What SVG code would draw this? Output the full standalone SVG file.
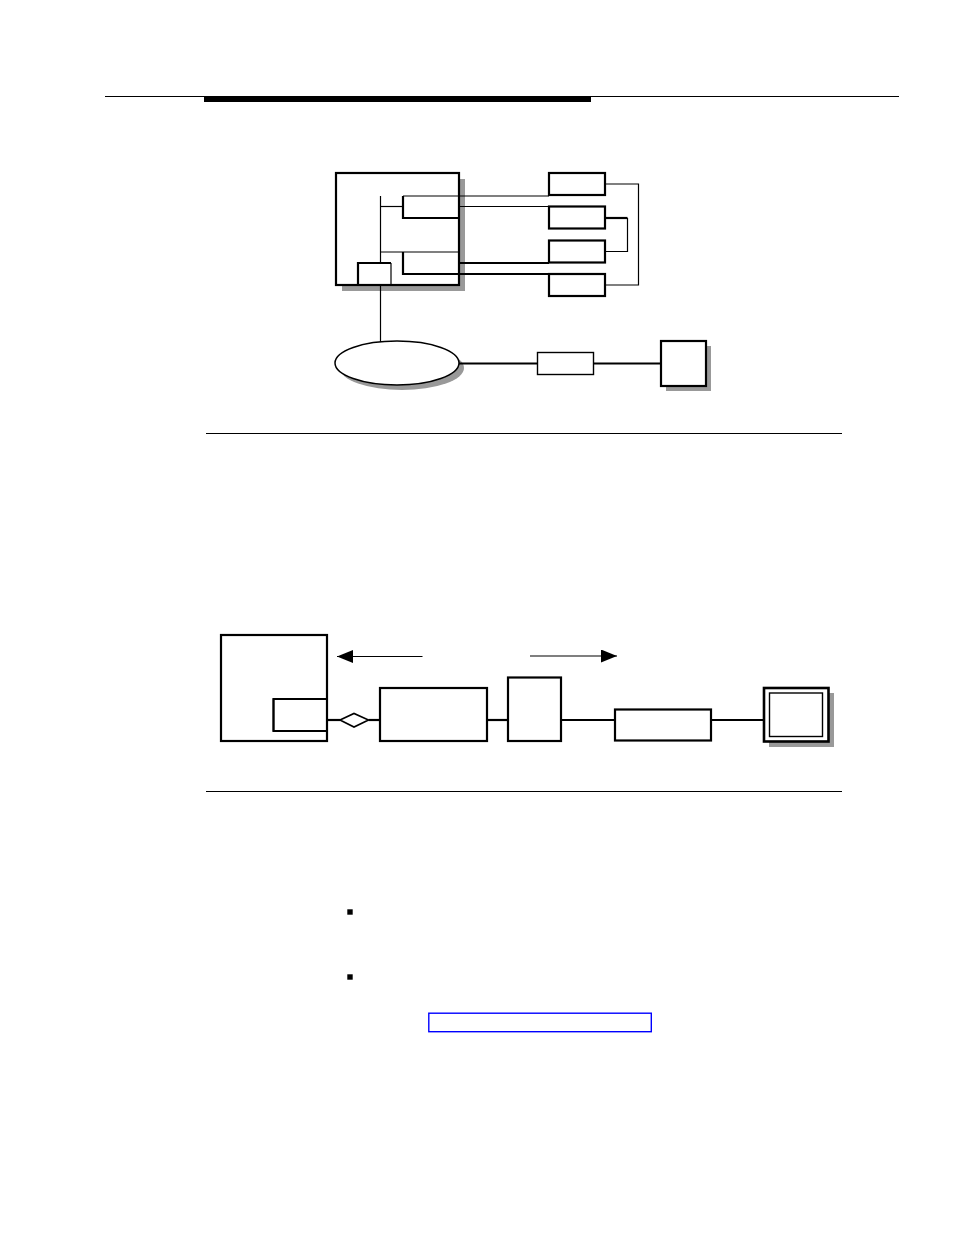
<svg xmlns="http://www.w3.org/2000/svg" width="954" height="1235" viewBox="0 0 954 1235">
<style>
.thin{stroke:#000;stroke-width:1.2;fill:none}
.med{stroke:#000;stroke-width:1.5;fill:none}
.thick{stroke:#000;stroke-width:2.2;fill:none}
.box{stroke:#000;stroke-width:2.2;fill:#fff}
.shadow{fill:#999;stroke:none}
.rule{stroke:#000;stroke-width:1;fill:none}
</style>
<defs>
<marker id="arr" markerWidth="16" markerHeight="13" refX="16" refY="6.5" orient="auto" markerUnits="userSpaceOnUse">
<path d="M0,0 L16,6.5 L0,13 Z" fill="#000"/>
</marker>
</defs>
<rect width="954" height="1235" fill="#fff"/>
<g id="page-rules">
<line x1="105" y1="96.5" x2="899" y2="96.5" class="rule"/>
<rect x="204" y="97" width="387" height="5" fill="#000"/>
<line x1="206" y1="433.5" x2="842" y2="433.5" class="rule"/>
<line x1="206" y1="791.5" x2="842" y2="791.5" class="rule"/>
</g>
<g id="fig1">
<g id="shelf">
<rect x="342" y="179" width="123" height="112" class="shadow"/>
<rect x="336" y="173" width="123" height="112" class="box"/>
</g>
<g id="card-upper">
<path d="M403,196 L403,218 L459,218" class="thick"/>
</g>
<g id="card-lower">
<path d="M403,252 L403,274 L459,274" class="thick"/>
</g>
<g id="card-bottom">
<path d="M358,285 L358,263 L391,263" class="thick"/>
<line x1="391" y1="263" x2="391" y2="285" class="thin"/>
</g>
<g id="r1"><rect x="549" y="173" width="56" height="22" class="box"/></g>
<g id="r2"><rect x="549" y="206.5" width="56" height="22" class="box"/></g>
<g id="r3"><rect x="549" y="240.5" width="56" height="22" class="box"/></g>
<g id="r4"><rect x="549" y="274" width="56" height="22" class="box"/></g>
<g id="net">
<ellipse cx="402" cy="368" rx="62" ry="22" class="shadow"/>
<ellipse cx="397" cy="363" rx="62" ry="22" fill="#fff" stroke="#000" stroke-width="1.5"/>
</g>
<g id="mid-box"><rect x="537.5" y="352.5" width="56" height="22" fill="#fff" stroke="#000" stroke-width="1.4"/></g>
<g id="term">
<rect x="666" y="346" width="45" height="45" class="shadow"/>
<rect x="661" y="341" width="45" height="45" class="box"/>
</g>
<g id="connectors1">
<line x1="380.5" y1="196" x2="380.5" y2="263" class="thin"/>
<line x1="380.5" y1="285" x2="380.5" y2="342" class="thin"/>
<line x1="380.5" y1="206.5" x2="403" y2="206.5" class="thin"/>
<line x1="380.5" y1="252" x2="459" y2="252" class="thin"/>
<line x1="403" y1="196" x2="549" y2="196" class="thin"/>
<line x1="459" y1="206.5" x2="549" y2="206.5" class="thin"/>
<line x1="459" y1="263" x2="549" y2="263" class="thick"/>
<line x1="459" y1="274" x2="549" y2="274" class="thick"/>
<path d="M605,184 L638.5,184 L638.5,285 L605,285" class="thin"/>
<line x1="605" y1="218" x2="627.5" y2="218" class="thick"/>
<path d="M627.5,218 L627.5,251.5 L605,251.5" class="thin"/>
<line x1="459" y1="363.5" x2="537.5" y2="363.5" class="thick"/>
<line x1="593.5" y1="363.5" x2="661" y2="363.5" class="thick"/>
</g>
</g>
<g id="fig2">
<g id="sw"><rect x="221" y="635" width="106" height="106" class="box"/></g>
<g id="port">
<path d="M327,699 L273.5,699 L273.5,731 L327,731" class="thick"/>
<line x1="273.5" y1="699" x2="273.5" y2="731" class="med"/>
</g>
<g id="b1"><rect x="380" y="688" width="107" height="53" class="box"/></g>
<g id="b2"><rect x="508" y="677.5" width="53" height="63.5" class="box"/></g>
<g id="b3"><rect x="615" y="709.5" width="96" height="31" class="box"/></g>
<g id="monitor">
<rect x="769" y="693" width="65" height="54" class="shadow"/>
<rect x="764" y="688" width="64.5" height="53.5" fill="#fff" stroke="#000" stroke-width="2.6"/>
<rect x="769.5" y="693" width="53" height="43.5" fill="none" stroke="#000" stroke-width="1.4"/>
</g>
<g id="connectors2">
<line x1="422.5" y1="656.5" x2="337" y2="656.5" class="thin" marker-end="url(#arr)"/>
<line x1="530" y1="656" x2="617" y2="656" class="thin" marker-end="url(#arr)"/>
<line x1="327" y1="720" x2="340" y2="720" class="thick"/>
<path d="M340,720 L354,713.5 L368.5,720 L354,727 Z" fill="#fff" stroke="#000" stroke-width="1.6"/>
<line x1="368.5" y1="720" x2="380" y2="720" class="thick"/>
<line x1="487" y1="720" x2="508" y2="720" class="thick"/>
<line x1="561" y1="720" x2="615" y2="720" class="thick"/>
<line x1="711" y1="720" x2="764" y2="720" class="thick"/>
</g>
</g>
<g id="bullets">
<rect x="347.3" y="909.3" width="5.4" height="5.4" fill="#000"/>
<rect x="347.3" y="974.3" width="5.4" height="5.4" fill="#000"/>
</g>
<g id="link">
<rect x="428.8" y="1013.2" width="222.5" height="18.5" fill="none" stroke="#0000ff" stroke-width="1.4"/>
</g>
</svg>
